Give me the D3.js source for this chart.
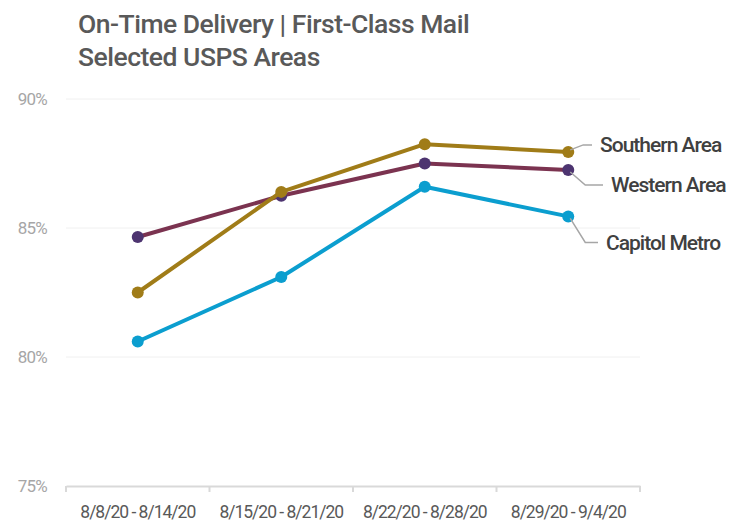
<!DOCTYPE html>
<html>
<head>
<meta charset="utf-8">
<script src="https://cdn.jsdelivr.net/npm/d3@7"></script>
<style>
  body { margin: 0; background: #fff; }
  svg { display: block; }
</style>
</head>
<body>
<svg id="chart"></svg>
<script>
const weeks = ['8/8/20 - 8/14/20', '8/15/20 - 8/21/20', '8/22/20 - 8/28/20', '8/29/20 - 9/4/20'];
const southern = [82.5, 86.4, 88.25, 87.95];
const western = [84.65, 86.25, 87.5, 87.25];
const capitol = [80.6, 83.1, 86.6, 85.45];
const yTicks = [75, 80, 85, 90];

const width = 741;
const height = 525;
const marginLeft = 66;
const marginRight = 101;
const marginTop = 99;
const marginBottom = 39;

const svg = d3.select('#chart')
	.attr('width', width)
	.attr('height', height)
	.style('font-family', 'Roboto, sans-serif');

// title
svg.append('text')
	.attr('x', 78).attr('y', 33)
	.attr('fill', '#595959')
	.attr('font-size', 26.5)
	.attr('font-weight', 500)
	.attr('letter-spacing', -0.5)
	.text('On-Time Delivery | First-Class Mail');
svg.append('text')
	.attr('x', 78).attr('y', 66)
	.attr('fill', '#595959')
	.attr('font-size', 26.5)
	.attr('font-weight', 500)
	.attr('letter-spacing', -0.5)
	.text('Selected USPS Areas');

const x = d3.scaleBand()
	.domain(weeks)
	.range([marginLeft, width - marginRight]);

const y = d3.scaleLinear()
	.domain([75, 90])
	.range([height - marginBottom, marginTop]);

// grid lines
svg.append('g')
	.selectAll('line')
	.data(yTicks.filter((d) => d > 75))
	.join('line')
	.attr('x1', marginLeft)
	.attr('x2', width - marginRight)
	.attr('y1', (d) => y(d))
	.attr('y2', (d) => y(d))
	.attr('stroke', '#f0f0f0')
	.attr('stroke-width', 1);

// y labels
svg.append('g')
	.selectAll('text')
	.data(yTicks)
	.join('text')
	.attr('x', 47)
	.attr('y', (d) => y(d))
	.attr('dy', '0.35em')
	.attr('text-anchor', 'end')
	.attr('fill', '#a6a6a6')
	.attr('font-size', 17)
	.attr('letter-spacing', -0.8)
	.text((d) => d + '%');

// x axis
svg.append('g')
	.attr('transform', `translate(0,${y(75)})`)
	.call(d3.axisBottom(x).tickSize(0).tickPadding(20).tickSizeOuter(0))
	.call((g) => g.select('.domain').attr('stroke', '#d9d9d9').attr('stroke-width', 2))
	.call((g) => g.selectAll('.tick text')
		.attr('fill', '#595959')
		.attr('font-size', 17.5)
		.attr('letter-spacing', -1)
		.attr('font-family', 'Roboto, sans-serif'));

// band boundary ticks
const bounds = weeks.map((w) => x(w)).concat([x(weeks[weeks.length - 1]) + x.bandwidth()]);
svg.append('g')
	.selectAll('line')
	.data(bounds)
	.join('line')
	.attr('x1', (d) => d)
	.attr('x2', (d) => d)
	.attr('y1', y(75))
	.attr('y2', y(75) + 6)
	.attr('stroke', '#d9d9d9')
	.attr('stroke-width', 2);

const cx = (i) => x(weeks[i]) + x.bandwidth() / 2;
const line = d3.line()
	.x((d, i) => cx(i))
	.y((d) => y(d));

const series = [
	{ name: 'Western Area', values: western, line: '#7b3350', dot: '#4d3470' },
	{ name: 'Southern Area', values: southern, line: '#a07c18', dot: '#a07c18' },
	{ name: 'Capitol Metro', values: capitol, line: '#0b9ecf', dot: '#0b9ecf' },
];

series.forEach((s) => {
	svg.append('path')
		.datum(s.values)
		.attr('d', line)
		.attr('fill', 'none')
		.attr('stroke', s.line)
		.attr('stroke-width', 4)
		.attr('stroke-linejoin', 'round');
	svg.append('g')
		.selectAll('circle')
		.data(s.values)
		.join('circle')
		.attr('cx', (d, i) => cx(i))
		.attr('cy', (d) => y(d))
		.attr('r', 6)
		.attr('fill', s.dot);
});

// end labels with leader lines
const labels = [
	{ name: 'Southern Area', values: southern, dx: 15, dy: -7, tx: 600, ty: 145 },
	{ name: 'Western Area', values: western, dx: 17, dy: 15, tx: 611, ty: 185 },
	{ name: 'Capitol Metro', values: capitol, dx: 17, dy: 26, tx: 606, ty: 241 },
];
const last = weeks.length - 1;
labels.forEach((l) => {
	const px = cx(last);
	const py = y(l.values[last]);
	svg.append('polyline')
		.attr('points', [[px + 2, py - 2 * Math.sign(-l.dy)], [px + l.dx, py + l.dy], [l.tx - 8, py + l.dy]].map((p) => p.join(',')).join(' '))
		.attr('fill', 'none')
		.attr('stroke', '#a6a6a6')
		.attr('stroke-width', 1.5);
	svg.append('text')
		.attr('x', l.tx)
		.attr('y', py + l.dy)
		.attr('dy', '0.35em')
		.attr('fill', '#404040')
		.attr('font-size', 21)
		.attr('font-weight', 500)
		.attr('letter-spacing', -1)
		.text(l.name);
});
</script>
</body>
</html>
